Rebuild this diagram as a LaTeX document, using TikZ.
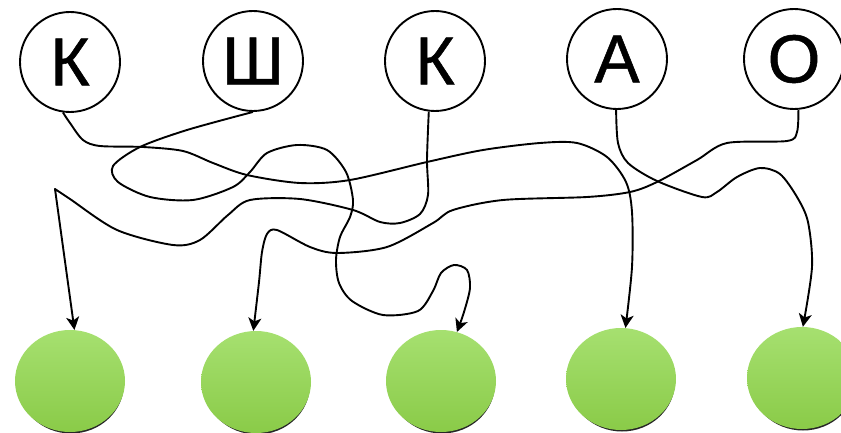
\documentclass[tikz,border=0pt]{standalone}
\usepackage{fontspec}
\setmainfont{Liberation Sans}
\newfontfamily\letterfont[FakeBold=0.8]{Liberation Sans}
\usetikzlibrary{arrows.meta,shapes.geometric}
\definecolor{balltop}{HTML}{A6E070}
\definecolor{ballmid}{HTML}{93D152}
\definecolor{ballbot}{HTML}{8ACB48}
\begin{document}
\begin{tikzpicture}[x=1pt,y=-1pt,
  letter/.style={circle,draw,line width=1.9pt,minimum size=100pt,inner sep=0pt,
    font=\letterfont\fontsize{68}{68}\selectfont},
  ball/.style={ellipse,minimum width=110pt,minimum height=102pt,inner sep=0pt,
    top color=balltop,middle color=ballmid,bottom color=ballbot},
  ballshadow/.style={fill=black!85},
  wire/.style={line width=1.9pt,line join=round,
    -{Stealth[length=13pt,width=13pt,inset=3.5pt]}}
]
\useasboundingbox (0,0) rectangle (841,433);
% letters
\node[letter] (k1) at (70,62) {К};
\node[letter] (sh) at (253,61) {Ш};
\node[letter] (k2) at (435,61) {К};
\node[letter] (a)  at (617,59) {А};
\node[letter] (o)  at (794,59) {О};
% balls
\foreach \n/\x/\y in {b1/70/381,b2/256/382,b3/441/381,b4/621/379,b5/802/378}{
  \fill[ballshadow] (\x+1,\y+2.5) ellipse [x radius=53pt,y radius=50pt];
  \node[ball] (\n) at (\x,\y) {};
}
% K -> ball 4
\draw[wire] plot[smooth] coordinates {(k1.-98) (70,123) (83,140) (100,146) (143,147)
  (183,151) (213,163) (247,175) (300,183) (350,180) (427,162) (483,150) (540,143)
  (577,143) (607,157) (626,182) (632,212) (632,267) (b4.85)};
% Sh -> ball 3
\draw[wire] plot[smooth] coordinates {(sh.-90) (187,130) (140,147) (113,166) (118,182)
  (150,197) (193,200) (233,187) (250,172) (267,153) (297,145) (327,150) (346,172)
  (353,200) (350,217) (340,237) (336,260) (339,283) (352,301) (383,315) (418,311)
  (433,291) (441,273) (454,265) (467,270) (470,288) (464,312) (b3.72)};
% K -> ball 1
\draw[wire] plot[smooth] coordinates {(k2.-97) (427,160) (428,195) (420,214) (400,223)
  (380,222) (353,210) (300,199) (250,200) (228,215) (200,240) (173,245) (117,230)
  (70,199) (55,189)} -- (b1.85);
% A -> ball 5
\draw[wire] plot[smooth] coordinates {(a.-91) (618,143) (628,163) (657,181) (702,197)
  (717,192) (737,177) (760,168) (780,174) (797,197) (808,222) (812,267) (b5.89)};
% O -> ball 2
\draw[wire] plot[smooth] coordinates {(o.-85) (797,132) (787,141) (727,143) (697,160)
  (657,182) (630,192) (587,197) (503,200) (453,210) (433,223) (387,247) (337,253)
  (310,247) (277,230) (267,234) (262,252) (259,282) (b2.93)};
\end{tikzpicture}
\end{document}
